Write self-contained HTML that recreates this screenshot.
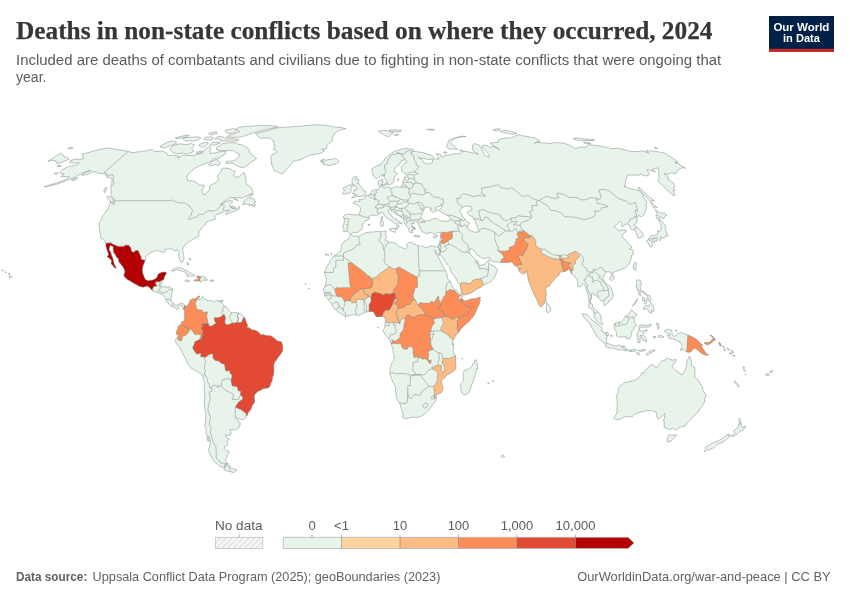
<!DOCTYPE html>
<html><head><meta charset="utf-8"><title>Deaths in non-state conflicts based on where they occurred, 2024</title>
<style>
html,body{margin:0;padding:0;background:#fff;}
body{width:850px;height:600px;overflow:hidden;position:relative;font-family:"Liberation Sans",sans-serif;}
svg{position:absolute;left:0;top:0;}
</style></head><body>
<svg width="850" height="600" viewBox="0 0 850 600">
<rect width="850" height="600" fill="#fff"/>
<g id="map">
<defs><path id="land" d="M70.4,160.5L75.7,159.1L79.2,159.3L83.6,158.7L82.8,157.1L82.6,154.9L81.8,154.2L90.8,151.9L99.3,149.5L107.7,147.9L113.4,148.9L118.8,149.8L124.1,150.6L128.0,151.5L133.1,152.8L137.5,151.9L141.4,151.5L147.6,150.4L152.0,149.5L154.4,151.7L161.8,151.0L166.7,152.8L167.6,155.3L174.2,155.5L178.9,156.0L177.5,158.4L183.1,155.1L189.5,155.5L195.8,155.1L199.4,152.8L203.8,151.5L205.7,148.5L210.1,146.4L210.6,148.5L209.8,151.3L210.6,153.5L215.3,152.8L220.6,151.3L225.6,151.3L225.4,154.0L220.8,156.9L216.7,159.1L213.5,158.7L210.7,161.4L205.4,163.9L201.1,165.1L195.3,168.1L189.6,172.4L186.8,176.4L187.8,180.8L192.5,180.8L195.5,182.0L199.5,184.9L204.4,185.4L202.0,190.7L203.2,194.7L205.9,194.4L209.3,189.4L209.7,185.7L216.2,182.5L218.9,178.9L217.1,176.0L220.5,172.8L222.4,168.1L226.9,168.1L230.1,168.8L232.6,170.7L235.5,171.2L233.6,176.0L235.7,177.4L238.9,176.7L243.4,172.8L244.3,172.8L245.8,177.9L245.9,182.0L247.6,184.9L250.7,186.9L251.8,189.2L253.2,191.9L252.6,193.7L248.9,194.7L242.9,197.7L236.9,197.7L229.9,197.7L225.4,200.7L220.2,205.0L224.3,202.2L229.9,200.5L233.1,201.2L230.2,203.8L230.1,207.1L232.4,208.4L236.3,208.9L239.6,206.3L239.7,208.6L236.5,210.4L231.2,212.2L226.1,214.8L225.4,212.7L229.7,210.1L227.0,210.4L224.3,210.9L223.3,212.2L219.4,213.5L216.6,214.5L214.7,217.1L215.5,219.2L212.7,219.9L209.7,220.7L206.1,222.0L205.0,224.8L202.5,226.9L199.4,231.1L198.8,232.4L198.9,236.0L195.9,237.6L192.5,239.7L189.5,241.5L185.3,244.4L183.1,247.8L182.7,250.4L183.7,254.6L184.1,258.2L183.1,261.6L181.1,262.7L179.8,259.8L178.6,255.6L179.0,252.5L177.3,249.9L174.4,250.9L172.0,248.8L168.2,249.1L164.8,249.4L164.8,252.2L162.0,252.0L158.9,250.9L155.0,250.7L152.0,252.0L148.2,254.3L145.6,256.9L145.3,260.3L143.1,265.5L142.3,269.7L142.8,273.4L144.3,277.3L145.3,279.4L147.9,280.7L151.6,280.2L154.4,279.6L156.9,277.5L158.3,273.9L161.7,272.3L165.6,272.1L166.5,273.4L164.5,276.5L163.7,279.9L162.5,279.9L162.0,282.5L160.7,285.9L160.8,286.9L162.8,286.7L166.7,286.9L170.1,286.9L172.6,289.0L171.7,294.3L170.9,299.5L171.6,301.3L173.1,303.1L174.4,304.7L176.7,305.2L179.0,304.2L180.9,303.1L183.7,303.9L185.0,305.5L183.6,309.4L182.8,307.1L182.4,305.7L180.2,305.0L178.2,306.8L178.4,308.9L176.7,309.4L175.0,307.3L172.3,306.8L170.5,305.7L167.9,302.6L165.9,301.3L166.1,299.2L163.6,295.6L162.4,294.3L159.9,293.7L157.0,292.4L154.1,291.6L151.9,290.3L148.9,286.7L146.8,285.9L143.4,287.2L139.8,286.4L136.2,284.6L132.6,282.5L130.6,281.2L127.4,279.4L124.8,277.3L123.8,274.9L124.9,272.1L124.3,269.2L122.7,266.6L120.7,264.0L118.9,261.9L118.4,258.8L116.4,256.9L115.7,255.2L113.7,252.5L113.1,248.6L113.3,246.7L110.6,245.4L109.6,246.7L109.1,249.9L110.8,252.5L111.6,255.6L113.0,258.8L113.5,262.1L114.5,264.8L116.1,267.4L115.0,268.4L113.4,266.1L111.1,263.7L111.6,260.6L109.7,258.5L107.1,256.7L108.7,254.6L107.7,251.7L106.6,248.8L106.0,246.0L105.9,243.3L104.3,239.7L100.3,238.1L100.6,236.3L99.7,232.7L99.7,230.3L99.3,228.2L99.1,225.1L99.2,222.8L101.6,219.2L102.3,216.6L105.6,212.2L108.4,207.8L110.6,202.2L113.7,202.7L113.3,205.0L115.1,202.5L114.6,200.7L113.6,198.2L111.7,196.7L110.5,194.4L111.4,191.9L110.9,188.9L110.9,186.9L111.6,184.5L111.9,182.0L112.0,178.9L109.6,177.4L107.5,177.7L106.3,176.0L104.8,174.0L101.3,173.5L97.8,173.3L96.0,171.7L91.8,172.1L89.4,173.8L85.0,175.0L81.4,175.2L85.2,172.6L90.9,170.5L86.5,171.2L82.5,173.1L78.5,175.0L74.9,177.2L68.9,179.6L63.2,181.8L57.5,184.0L52.3,185.2L47.6,186.4L44.2,186.9L49.7,184.9L55.5,183.2L61.4,181.3L66.4,179.4L69.6,176.7L66.6,176.9L64.0,176.4L60.9,176.7L64.2,174.0L60.8,173.8L60.6,171.9L62.8,169.3L67.5,167.0L71.9,166.0L76.7,165.1L79.3,163.0L75.7,163.0L72.2,163.0L70.0,162.5L70.4,160.5Z M281.6,174.0L277.7,172.1L274.5,170.7L273.0,167.7L271.6,164.1L271.3,160.7L270.7,157.3L272.4,154.4L277.5,152.4L276.6,150.6L273.2,149.3L274.8,146.4L274.1,143.2L272.7,140.0L269.6,138.1L265.0,138.1L260.4,138.1L257.5,136.2L256.6,134.6L255.2,133.7L262.6,131.9L268.2,130.4L272.5,128.9L279.3,127.6L288.1,127.0L298.2,126.4L308.5,125.3L318.2,124.8L327.4,125.5L333.8,126.9L341.9,127.6L345.9,128.6L339.9,130.1L335.8,132.3L333.7,135.2L332.2,138.1L332.3,141.1L328.7,143.6L326.5,146.4L326.8,148.5L321.7,149.3L324.7,150.6L321.7,152.8L317.2,154.2L310.3,154.9L305.4,157.3L300.3,159.8L295.8,160.5L292.7,161.8L290.2,165.3L287.0,168.8L284.5,171.9L281.6,174.0Z M320.5,160.5L323.8,158.7L325.7,160.7L327.8,159.6L331.3,159.3L334.7,158.4L337.3,159.6L339.0,161.6L336.7,163.4L332.6,164.8L329.3,165.6L326.4,165.1L322.8,164.4L324.0,163.2L320.7,162.0L324.0,161.1L320.5,160.5Z M256.8,158.4L251.5,161.8L247.2,165.3L243.3,167.7L240.0,167.2L235.7,165.1L232.3,163.2L226.0,163.4L226.4,161.4L234.2,160.7L238.5,157.3L239.5,154.4L235.7,152.4L232.7,150.6L228.6,150.6L221.9,150.6L216.7,150.0L216.8,147.4L223.4,143.2L228.5,142.8L235.0,142.6L238.4,144.3L241.3,144.7L246.2,146.8L249.2,149.5L249.7,152.8L253.7,156.2L256.8,158.4Z M170.1,149.5L172.4,152.2L175.9,153.7L183.2,153.1L187.5,154.0L193.8,151.5L191.8,148.5L194.7,144.9L191.3,143.6L185.3,144.7L180.7,143.8L173.4,145.3L171.5,147.6L170.1,149.5Z M159.8,146.6L163.1,147.9L168.9,146.4L176.7,143.2L175.5,141.5L171.3,141.1L166.1,142.8L159.8,146.6Z M226.3,137.2L232.2,137.3L238.2,137.3L243.9,136.2L251.0,133.5L256.8,131.9L266.1,129.6L273.4,127.9L278.0,126.7L272.7,125.8L262.0,125.6L250.5,126.1L241.1,127.0L236.3,128.6L237.1,130.1L240.0,131.4L234.6,133.7L229.2,135.2L226.3,137.2Z M225.2,130.4L233.5,128.6L236.6,129.9L235.5,132.1L229.4,133.7L225.8,131.8L225.2,130.4Z M218.1,136.4L223.5,137.0L225.9,138.9L233.8,138.7L239.0,139.7L237.9,140.9L228.4,141.1L220.2,140.7L219.7,138.9L214.9,139.1L218.1,136.4Z M184.5,137.7L191.1,137.3L198.0,136.8L200.8,138.1L198.2,140.0L192.4,141.1L185.6,140.9L182.8,138.9L184.5,137.7Z M205.3,137.0L211.4,137.0L213.8,138.1L211.0,140.0L206.8,140.0L203.6,138.9L205.3,137.0Z M199.4,144.3L205.2,142.4L208.6,143.0L205.7,146.0L201.8,147.4L199.3,146.0L199.4,144.3Z M212.5,142.2L218.0,142.2L220.4,143.0L214.5,145.1L210.0,145.3L212.5,142.2Z M210.7,161.4L216.3,159.6L218.3,160.5L220.5,163.9L218.6,165.6L214.7,164.6L211.1,166.0L208.3,164.8L211.2,163.2L210.7,161.4Z M196.6,152.2L201.7,151.0L203.1,152.4L200.1,154.0L196.3,153.5L196.6,152.2Z M175.4,137.7L183.6,135.8L188.9,135.2L187.1,137.0L180.6,138.3L175.7,138.5L175.4,137.7Z M208.6,133.3L216.4,131.8L216.9,133.7L211.0,134.8L208.6,133.3Z M242.2,204.3L244.9,202.2L243.6,201.7L245.6,199.9L248.4,196.7L250.2,194.9L253.1,194.2L251.2,196.7L249.5,198.2L251.6,198.4L254.4,199.4L254.8,201.5L255.7,201.7L254.0,203.8L255.6,204.5L254.2,206.7L252.5,206.1L252.5,204.5L249.3,206.1L249.7,204.5L246.9,204.3L242.2,204.3Z M107.3,196.2L110.0,196.9L112.2,198.2L113.5,199.9L113.2,202.2L110.8,202.0L109.3,200.2L107.2,197.9L107.3,196.2Z M105.1,187.7L107.2,188.2L104.6,192.7L103.8,190.7L105.1,187.7Z M71.3,179.8L72.7,180.8L76.3,179.4L77.6,177.4L74.1,178.6L71.3,179.8Z M55.3,173.1L58.5,172.8L57.1,174.0L54.3,174.0L55.3,173.1Z M57.6,165.1L60.6,165.8L61.6,166.0L58.0,166.7L56.7,165.8L57.6,165.1Z M233.6,198.4L238.1,199.9L238.4,200.5L235.0,199.7L233.6,198.4Z M231.5,206.1L235.8,207.3L234.4,208.4L231.6,207.6L231.5,206.1Z M171.2,271.0L173.5,268.9L175.8,268.2L177.2,267.8L180.4,267.9L182.6,268.4L184.6,269.7L187.8,271.3L189.9,272.8L191.6,273.6L194.8,275.5L192.4,276.2L187.2,276.2L186.7,276.4L188.1,274.7L185.9,273.9L185.3,272.1L182.2,271.5L180.9,270.8L178.3,270.2L177.5,269.5L175.1,270.5L173.2,271.0L171.2,271.0Z M193.7,280.3L195.9,279.6L198.4,279.9L197.7,278.1L196.5,276.5L197.9,276.1L200.2,276.6L203.1,276.4L204.4,276.8L205.9,277.8L204.9,278.6L207.6,279.6L206.7,280.7L204.1,280.0L202.6,280.7L201.2,282.0L200.4,282.2L199.8,281.1L197.4,280.8L195.1,281.1L193.7,280.3Z M185.0,280.4L186.8,279.9L189.5,280.8L189.4,281.5L187.3,281.9L184.9,280.8L185.0,280.4Z M210.2,279.9L213.6,280.2L213.5,281.2L210.1,281.3L210.2,279.9Z M187.1,262.7L188.3,262.7L188.4,265.0L187.3,265.0L187.1,262.7Z M189.1,258.2L190.7,258.8L190.5,260.3L189.8,260.1L189.1,258.2Z M9.6,275.3L11.6,276.5L11.6,277.5L9.7,278.7L9.2,277.0L9.6,275.3Z M8.5,273.4L10.0,273.6L9.6,274.4L8.5,274.2L8.5,273.4Z M5.3,271.8L6.6,272.1L6.2,272.7L5.3,272.6L5.3,271.8Z M2.3,270.2L3.4,270.2L3.1,271.0L2.2,270.9L2.3,270.2Z M185.0,305.5L186.3,307.3L187.5,305.0L189.2,303.4L189.6,300.8L191.3,299.5L192.7,298.7L195.4,298.7L197.4,297.1L199.3,295.8L199.9,296.9L198.0,298.2L198.6,300.0L200.0,299.5L201.7,298.2L202.5,296.3L203.3,298.2L206.1,300.0L209.1,300.8L211.4,300.5L213.6,301.8L216.0,300.8L219.4,300.3L218.9,301.6L221.6,302.6L222.9,303.9L223.3,306.0L225.4,306.5L227.2,307.6L228.7,310.2L230.9,312.5L233.9,312.8L236.2,312.5L238.5,313.1L240.8,313.8L243.0,316.2L244.2,317.0L245.3,319.1L246.4,323.0L247.8,325.1L246.8,327.7L248.6,327.4L250.7,329.0L252.1,330.0L254.4,330.0L256.7,331.1L259.5,332.9L260.7,335.0L263.0,334.5L266.0,335.5L268.3,335.8L270.6,335.8L274.1,337.9L277.1,340.7L279.9,341.5L281.5,341.8L282.3,344.6L282.8,347.3L282.4,351.7L280.6,354.3L278.0,357.4L276.2,360.6L274.5,362.1L273.7,366.1L273.9,370.0L273.7,374.2L272.5,377.3L272.2,380.4L270.4,384.3L269.9,386.2L268.2,388.1L265.5,388.2L262.4,389.0L260.5,390.6L258.5,390.9L256.0,393.2L254.6,394.8L254.2,397.4L254.6,400.8L254.3,402.9L252.4,405.0L251.6,407.8L250.1,410.4L248.4,412.3L247.5,414.9L246.2,416.3L245.6,418.0L243.4,419.4L240.6,419.3L238.4,418.3L236.6,418.0L235.4,417.0L235.6,418.5L238.4,420.4L239.1,422.7L240.4,423.5L239.2,427.4L237.4,428.9L234.6,429.7L231.5,430.0L229.9,429.5L230.8,432.6L230.8,434.9L228.0,435.4L225.3,434.7L226.1,437.5L228.0,438.3L229.6,439.3L228.3,440.1L227.2,441.1L227.4,444.2L227.0,445.5L224.7,446.5L224.3,448.6L226.5,450.6L228.7,451.1L229.1,452.9L227.0,455.2L227.1,457.7L225.4,459.0L225.3,460.7L228.3,464.0L226.2,464.2L224.1,465.2L224.8,467.7L222.0,467.2L219.5,466.0L216.8,463.7L214.2,461.5L212.1,458.2L210.2,454.4L208.2,449.8L209.3,447.8L210.0,444.2L210.4,440.9L209.5,437.0L207.5,436.7L205.9,432.6L206.4,430.5L204.8,426.1L205.1,424.0L205.3,420.9L206.0,416.4L205.6,411.7L204.5,406.5L204.5,403.9L204.5,400.0L204.8,394.8L204.1,389.6L204.5,384.3L203.8,380.4L202.9,376.0L200.4,373.6L197.7,371.8L194.1,370.0L190.9,367.9L188.4,364.5L186.0,359.8L184.6,356.9L182.5,353.0L180.5,349.1L179.0,346.2L176.4,344.1L175.8,341.8L175.5,339.9L176.4,338.4L177.8,337.1L178.7,335.2L177.7,335.0L176.2,333.9L176.7,330.8L178.1,328.2L178.3,326.1L180.9,324.8L181.9,321.7L184.0,321.4L184.9,318.3L184.3,316.5L184.6,313.6L184.7,311.0L183.6,309.4L185.0,305.5Z M228.2,464.9L225.0,465.5L225.7,467.2L224.8,468.7L223.6,469.5L227.2,471.0L230.4,471.7L234.1,472.7L235.0,471.2L236.9,470.0L234.0,469.0L231.4,467.7L229.5,466.0L228.2,464.9Z M206.9,437.2L208.4,437.5L209.5,441.4L207.7,440.9L206.9,437.2Z M220.8,300.3L223.0,300.0L222.8,301.8L220.7,302.0L220.8,300.3Z M438.2,246.5L440.2,251.2L439.4,254.3L439.0,255.7L437.5,254.3L436.5,252.7L435.0,250.1L434.5,250.9L435.7,253.3L437.4,255.4L438.5,257.7L440.3,260.8L442.6,265.5L443.2,267.9L446.1,270.8L446.9,273.4L447.3,277.0L447.9,279.4L450.3,281.2L451.6,284.3L452.7,287.5L454.6,289.0L456.9,290.3L459.6,293.5L461.5,295.0L462.2,297.1L460.9,298.2L462.1,298.4L464.2,300.8L466.1,300.8L468.3,300.0L471.0,299.0L473.3,298.7L475.1,298.7L478.1,297.7L480.1,296.9L480.3,297.4L480.0,299.5L480.5,300.8L479.6,301.3L479.5,303.7L478.4,306.0L477.3,307.8L475.6,312.5L473.4,316.5L471.1,319.1L468.8,321.7L467.2,323.0L464.2,325.6L462.4,327.4L460.8,329.2L459.4,331.3L458.5,332.6L457.1,334.2L455.4,335.2L455.0,337.1L454.0,338.9L453.1,340.5L452.1,343.9L453.2,346.0L453.6,347.5L453.1,350.4L454.0,353.8L455.5,355.6L455.8,359.5L455.5,362.1L456.0,366.1L455.4,369.2L453.9,371.0L451.6,372.6L448.8,373.9L446.9,374.9L445.2,377.3L443.3,378.9L441.7,379.9L441.3,382.2L442.1,384.6L442.9,386.7L442.6,390.3L441.6,392.4L439.1,393.5L436.5,394.8L436.0,396.1L436.3,398.2L435.3,401.8L433.4,403.7L431.5,406.3L429.6,409.1L427.2,411.7L424.8,413.8L422.3,415.7L419.1,417.0L416.2,417.5L413.6,417.0L410.8,417.5L408.1,418.3L406.3,419.1L404.2,418.0L402.9,417.9L402.9,414.4L402.4,411.7L401.4,408.6L400.3,405.2L399.5,402.9L397.8,400.8L396.5,398.2L396.0,394.3L395.4,390.9L395.5,386.9L394.2,384.3L392.7,381.7L391.2,377.8L389.6,373.4L389.7,370.0L390.7,366.6L391.6,363.4L393.7,360.8L394.4,356.9L394.0,354.3L392.7,351.7L393.4,350.4L392.2,347.0L391.1,344.0L390.9,342.6L390.0,340.5L388.4,338.4L386.3,336.0L384.7,334.2L383.5,331.6L383.0,330.0L384.2,328.7L384.7,327.2L384.9,325.3L385.4,322.2L385.6,320.1L384.9,318.0L383.3,316.5L381.9,316.3L380.1,316.7L378.5,316.7L376.6,317.0L375.2,315.1L374.3,313.3L373.2,311.8L370.6,311.5L369.0,311.5L366.5,312.0L365.6,312.3L364.0,313.1L362.3,313.8L360.5,314.6L358.2,315.8L355.7,314.9L353.6,314.6L351.3,314.9L349.0,315.7L345.5,316.8L343.7,315.4L342.1,314.6L339.8,312.8L337.9,311.8L336.3,310.2L334.1,308.6L332.9,306.8L332.2,306.0L332.2,304.4L331.3,303.4L329.5,301.3L328.4,299.7L327.3,298.4L325.7,297.1L324.6,295.8L324.4,293.5L324.8,292.2L322.8,289.7L324.0,288.5L325.2,286.4L325.7,283.8L326.5,280.7L326.1,278.1L325.4,277.0L325.9,275.2L324.2,273.9L324.4,272.1L326.1,268.7L327.0,266.3L329.1,263.5L330.4,260.1L332.4,258.0L333.8,255.9L336.1,254.8L337.9,253.3L340.2,251.7L341.3,249.4L341.2,246.2L342.4,243.3L344.2,241.3L346.2,240.5L348.0,239.2L349.3,236.8L350.0,234.7L351.3,234.5L353.0,236.3L354.5,236.2L356.3,236.0L358.0,236.6L360.6,235.0L362.8,234.5L365.0,232.9L367.1,232.7L369.3,232.1L371.4,231.9L373.6,232.1L375.7,231.6L377.9,231.4L381.3,231.7L383.9,230.8L385.0,231.4L386.5,231.5L385.5,233.2L385.8,235.0L386.9,236.3L386.1,238.1L384.8,239.7L386.4,240.5L388.0,241.5L390.2,242.3L391.9,242.3L394.2,243.1L396.2,243.6L396.9,245.7L399.2,246.7L402.1,247.5L404.8,249.1L406.7,247.8L407.1,246.0L406.7,244.1L408.2,242.8L410.1,242.3L413.2,243.1L413.8,244.1L416.7,244.9L418.1,245.7L420.1,246.0L423.0,246.5L425.7,247.3L427.3,247.7L428.9,246.5L431.1,245.8L433.0,246.0L434.0,246.7L436.0,247.0L438.2,246.5Z M475.7,359.5L477.0,362.7L477.5,366.1L478.0,368.7L476.4,368.9L476.0,372.1L475.0,375.5L473.9,379.1L472.5,383.0L471.0,386.9L469.6,390.9L468.3,393.6L465.9,394.3L463.8,395.0L462.2,393.7L461.0,391.4L461.0,388.8L460.5,385.6L461.1,383.8L462.8,381.5L463.7,379.1L463.4,376.5L462.9,373.9L464.2,370.8L466.5,369.7L468.4,369.2L470.6,367.4L472.2,365.8L472.6,363.7L474.4,362.9L474.8,360.8L475.7,359.5Z M377.8,327.2L378.4,327.3L378.3,328.1L377.8,327.9L377.8,327.2Z M453.0,343.3L453.7,343.9L453.7,344.9L453.1,344.6L453.0,343.3Z M461.8,358.2L462.5,358.5L462.2,359.3L461.8,359.0L461.8,358.2Z M487.9,382.8L489.0,383.0L488.7,383.9L487.8,383.6L487.9,382.8Z M492.8,380.4L493.7,380.7L493.4,381.7L492.6,381.5L492.8,380.4Z M325.2,254.2L326.8,253.7L326.3,255.0L325.4,255.0L325.2,254.2Z M327.6,254.8L328.5,254.8L328.5,255.7L327.6,255.6L327.6,254.8Z M331.2,253.5L332.1,253.3L331.9,254.6L331.0,254.8L331.2,253.5Z M308.5,288.3L309.4,288.5L309.1,289.3L308.5,289.0L308.5,288.3Z M305.2,283.6L306.1,283.6L305.9,284.2L305.2,284.1L305.2,283.6Z M438.2,246.5L438.9,244.7L439.4,242.6L439.6,241.8L440.3,239.7L440.8,238.1L440.6,235.3L440.7,234.2L440.9,232.4L439.4,232.7L437.4,232.1L435.7,233.7L433.8,234.1L431.9,232.9L429.0,231.9L428.7,233.4L426.2,233.7L423.9,232.4L421.8,231.6L421.2,229.3L419.4,228.2L420.2,226.4L418.4,225.1L418.5,223.7L418.1,222.3L415.7,221.5L414.4,221.5L413.2,222.5L414.4,223.4L412.5,223.9L411.3,222.5L410.8,223.8L412.1,225.9L411.7,226.9L414.2,228.5L414.5,229.8L413.2,229.0L412.2,229.3L412.7,230.6L411.8,230.3L412.7,232.9L411.4,233.0L409.6,232.1L408.6,229.8L409.3,228.5L408.0,228.0L407.0,226.7L405.8,224.8L403.9,222.8L404.0,220.5L403.6,218.9L401.6,217.6L399.4,216.1L397.0,214.8L394.4,213.0L393.6,210.9L392.5,210.1L391.6,211.4L390.6,209.6L391.0,209.1L389.6,209.4L388.2,210.1L388.5,212.7L389.0,213.5L391.1,214.5L392.6,217.4L395.0,218.9L396.9,218.9L396.3,219.9L398.7,221.0L402.1,223.5L401.7,224.3L399.3,222.8L398.1,223.8L398.1,224.8L399.3,226.4L398.1,228.0L397.3,229.3L396.4,229.0L396.6,227.5L397.4,226.4L396.5,225.1L395.9,223.5L394.6,223.3L393.5,222.3L392.8,221.7L391.3,220.7L388.5,219.2L386.1,217.6L384.8,216.3L384.3,214.8L383.2,213.2L381.3,212.4L379.8,213.5L378.4,214.0L377.2,215.0L375.8,215.8L374.1,215.3L372.2,215.0L370.1,215.3L369.1,217.4L369.5,218.9L367.4,220.2L364.9,221.2L364.3,222.0L362.8,224.1L362.2,225.4L363.2,226.9L361.7,228.2L361.3,230.1L358.7,231.6L358.1,232.4L355.2,232.4L353.3,232.4L351.2,234.0L349.8,233.7L349.2,232.7L347.7,231.1L345.8,231.6L343.6,231.6L344.0,228.0L342.5,227.2L343.6,224.8L344.4,221.2L344.1,218.6L343.4,216.1L345.7,214.5L346.4,214.0L350.9,214.5L354.9,214.8L359.0,215.0L359.9,212.2L360.5,209.4L360.3,207.8L358.3,205.3L355.7,204.0L353.7,203.5L353.1,202.2L355.7,201.2L358.8,201.7L359.6,201.5L359.2,198.9L360.4,199.7L363.0,199.4L365.8,197.7L366.0,195.9L367.8,195.4L369.5,194.7L370.7,193.2L372.0,190.7L373.5,189.9L376.5,189.7L378.4,189.2L379.5,188.4L380.0,187.4L379.4,185.7L378.3,184.2L378.2,182.0L378.5,180.6L380.7,180.3L382.7,179.1L382.7,180.8L382.4,182.0L383.5,182.3L382.3,183.0L381.6,184.5L381.1,185.7L381.9,186.2L382.5,187.2L384.1,187.2L384.0,188.2L386.2,187.7L388.7,186.7L390.4,188.4L393.8,187.4L397.5,186.2L398.8,187.2L400.7,187.2L401.3,185.9L403.1,184.9L403.2,184.0L402.7,182.0L403.3,179.8L405.3,179.1L406.7,180.6L408.2,180.8L408.6,178.6L408.6,177.4L406.6,176.7L406.2,175.5L408.5,174.7L410.9,174.5L414.6,174.7L416.2,173.5L418.5,173.8L416.1,173.1L415.1,171.9L412.3,172.4L408.8,173.1L405.2,174.0L403.5,172.6L401.6,171.2L401.6,169.8L401.2,166.5L403.6,164.4L405.8,162.3L407.3,161.8L405.4,160.2L404.7,160.0L401.4,160.5L400.2,162.5L400.0,164.1L397.6,165.8L395.1,167.7L394.3,169.5L394.3,171.9L397.4,173.5L396.3,175.2L394.5,176.7L394.0,178.9L393.9,181.5L392.9,183.0L390.2,184.5L387.7,184.7L387.0,183.0L387.3,181.5L385.2,179.1L383.6,176.0L382.5,173.8L381.8,176.0L380.5,176.2L379.1,177.4L377.8,178.1L375.9,178.4L373.4,176.2L372.3,172.6L371.9,170.0L372.2,168.6L374.5,167.2L376.2,166.3L377.9,165.3L381.3,165.1L380.5,164.1L382.4,162.0L384.2,160.7L384.9,158.4L387.4,156.6L389.1,155.1L390.6,154.0L392.1,152.8L394.4,151.3L397.6,150.4L401.4,149.1L405.0,148.3L408.6,148.5L411.6,149.1L413.9,149.8L412.6,151.0L414.4,151.3L417.9,151.9L423.1,152.6L427.8,154.2L432.5,155.8L433.8,157.8L432.0,159.1L428.7,159.6L423.1,158.4L419.6,158.0L418.4,157.1L422.9,160.7L424.1,163.0L427.4,164.1L429.9,163.4L433.1,162.5L432.3,160.0L435.3,158.7L438.9,159.1L437.8,155.3L436.0,153.7L440.5,154.4L441.7,157.3L444.4,155.8L448.4,155.1L452.4,154.6L453.5,153.3L457.2,154.0L460.4,153.5L462.8,151.7L465.9,151.3L469.7,152.2L475.5,153.5L478.4,154.2L474.1,151.7L472.4,148.5L472.7,145.3L474.0,143.6L478.7,144.7L481.4,148.5L483.5,152.8L484.9,155.1L488.8,157.3L489.1,155.1L485.4,150.6L481.8,146.8L483.0,145.1L487.5,145.7L489.6,147.4L493.7,146.4L497.8,148.5L499.5,149.5L492.8,145.3L490.3,143.2L493.8,142.6L498.3,142.4L497.9,140.0L501.2,138.9L505.0,138.1L509.3,137.9L511.9,137.5L514.8,136.2L518.0,134.8L521.5,135.6L527.3,136.6L535.5,138.1L540.2,141.1L535.9,142.2L534.3,143.6L535.9,142.2L541.3,142.8L546.3,143.0L550.2,143.6L553.7,142.6L558.7,142.8L564.0,143.2L569.8,145.3L571.2,146.4L575.5,148.5L579.0,147.4L582.0,147.2L585.5,147.4L587.3,145.7L588.2,144.7L593.6,145.1L597.7,145.7L606.7,147.4L611.8,148.7L616.1,148.3L619.7,148.5L628.0,150.6L631.2,151.7L635.5,151.3L639.5,151.7L641.2,150.6L648.6,152.8L646.2,150.6L651.0,151.0L655.5,151.3L660.2,152.2L664.9,153.1L677.8,161.6L677.4,162.5L674.8,162.5L678.8,164.1L682.9,166.5L685.5,168.1L681.2,167.9L679.5,169.3L676.8,171.4L675.9,173.5L671.3,172.8L669.1,174.0L664.2,173.8L668.2,176.4L668.5,178.4L667.2,178.9L673.4,182.8L674.8,185.7L673.4,188.2L675.3,190.2L673.0,190.7L674.3,193.2L674.3,195.9L669.1,191.9L662.5,185.7L658.0,180.8L659.1,178.4L658.8,174.7L658.8,172.4L658.6,170.0L657.5,167.7L655.4,168.8L652.3,169.3L655.5,171.9L647.2,169.5L647.9,171.7L649.6,174.7L646.9,175.7L645.3,176.0L641.6,174.5L637.1,175.2L631.3,175.0L627.9,175.2L627.0,177.2L626.1,179.1L625.6,181.5L625.3,183.2L625.3,185.7L624.0,186.4L628.7,188.2L631.1,188.7L636.0,189.9L638.8,190.2L641.1,192.7L642.8,194.4L644.0,198.2L646.8,202.0L645.9,205.0L646.7,207.6L646.1,209.6L645.3,211.4L644.5,213.5L642.9,216.1L641.1,216.6L638.4,215.5L637.3,217.1L637.1,217.9L637.0,221.2L637.3,221.7L634.9,223.8L634.4,225.1L634.6,225.9L637.5,227.5L641.6,231.6L643.1,234.2L643.5,236.0L641.3,237.3L638.4,238.4L637.6,237.3L636.6,234.2L635.6,231.6L634.8,230.1L631.8,229.5L630.4,228.8L630.2,227.5L629.5,225.1L627.2,223.8L624.7,224.8L623.3,226.4L622.0,226.9L621.7,224.8L621.8,222.5L620.4,221.5L618.9,221.7L617.0,224.3L614.5,225.9L614.3,226.9L617.9,229.5L619.0,231.1L621.9,229.5L626.3,230.6L625.8,231.9L623.2,234.2L622.2,236.8L624.7,239.4L627.7,242.8L630.8,245.4L631.8,247.5L630.1,248.3L629.3,249.1L633.0,250.1L633.3,254.3L631.6,255.4L630.7,260.3L629.1,264.0L626.1,266.8L625.2,268.2L622.7,268.9L620.6,269.7L618.9,270.5L615.7,271.5L612.8,272.8L612.7,275.2L611.3,274.7L610.9,272.3L609.0,271.8L607.2,271.8L604.8,273.6L604.4,275.2L602.8,278.6L603.0,279.4L605.0,282.5L607.9,285.1L609.6,286.2L611.7,289.0L612.8,293.0L613.0,295.6L613.0,297.4L611.6,299.5L608.8,301.0L607.8,303.4L604.1,305.7L603.7,302.6L602.6,301.0L600.5,300.5L598.9,298.4L598.6,297.7L597.1,296.3L594.0,295.0L593.6,293.2L592.6,293.0L591.5,293.5L591.5,295.6L591.5,298.2L590.4,300.8L590.6,303.9L592.2,303.9L592.6,306.0L593.9,309.1L596.3,310.2L597.8,312.0L599.9,313.8L601.0,315.7L601.3,319.1L601.1,321.2L603.0,324.5L601.4,324.8L598.6,322.5L596.2,320.6L594.5,317.2L594.0,314.1L593.6,311.5L592.1,310.2L590.4,308.1L588.8,307.8L588.6,304.7L589.2,302.1L588.7,299.5L588.7,296.9L587.7,293.7L587.0,291.6L586.0,288.3L585.1,285.1L583.6,284.3L582.2,285.1L580.3,286.9L577.8,286.4L577.7,282.5L576.8,279.1L575.2,277.3L574.6,276.0L572.9,275.2L571.6,273.9L570.6,272.1L569.9,270.0L568.6,268.9L567.1,270.0L567.0,270.8L565.3,271.3L564.0,271.5L562.0,271.8L559.6,272.6L559.2,274.2L558.7,275.7L557.2,276.5L555.6,277.8L553.6,280.4L552.2,282.0L550.2,284.6L550.1,285.4L547.9,286.7L546.0,287.7L545.7,289.0L545.9,291.6L546.5,294.0L545.8,296.9L545.8,299.5L546.2,301.3L544.8,301.6L544.2,303.9L542.5,305.0L541.1,307.1L538.8,305.0L538.0,302.4L536.6,299.0L534.5,295.6L534.0,294.5L532.3,290.3L531.2,287.7L529.6,283.8L528.0,278.6L527.6,274.7L526.8,272.1L526.4,270.2L525.8,272.8L523.4,273.9L522.0,273.6L519.0,271.0L518.4,269.7L521.2,268.4L518.3,268.7L517.0,266.8L516.2,266.3L514.6,265.5L514.0,264.8L513.2,263.5L511.9,261.9L507.5,262.4L503.0,262.4L501.0,262.4L498.5,262.1L495.1,261.9L492.3,261.4L491.1,260.8L489.8,257.7L488.4,257.2L485.7,258.5L484.6,258.8L481.1,257.7L479.8,256.4L477.5,255.4L475.6,252.7L473.7,249.9L471.1,248.6L470.2,249.9L469.2,251.2L469.6,252.5L470.4,253.8L471.5,255.9L473.2,257.2L475.0,258.8L475.3,261.6L476.8,263.5L476.6,261.6L476.9,260.1L478.5,262.1L478.5,264.0L479.3,265.5L481.9,265.0L485.0,264.2L486.8,262.1L488.3,260.1L488.9,259.5L489.4,262.9L490.2,264.5L494.6,266.6L497.6,269.5L495.6,274.7L493.9,278.6L491.2,281.2L487.9,283.3L485.7,283.8L483.7,284.9L481.4,286.9L477.0,289.0L474.8,290.6L471.4,292.7L465.8,294.8L462.4,295.0L461.6,293.0L460.8,289.6L460.3,285.6L458.3,282.5L455.8,278.6L454.6,276.5L451.3,272.1L449.4,266.8L448.2,265.5L446.3,262.9L444.5,260.3L441.9,256.4L440.7,254.8L439.8,254.8L440.4,251.2L440.2,251.2L438.2,246.5Z M60.7,153.1L62.4,154.2L63.6,156.2L66.2,157.3L68.4,158.2L69.0,159.3L66.0,160.5L59.9,163.0L57.5,163.4L56.1,162.5L55.8,160.9L52.6,160.7L52.2,159.8L47.8,161.6L60.7,153.1Z M70.1,147.4L72.6,147.4L73.1,148.1L70.3,148.7L67.9,148.7L70.1,147.4Z M655.5,147.4L653.9,147.6L655.2,148.5L657.7,148.7L655.5,147.4Z M351.4,197.9L354.4,197.4L356.8,196.4L360.2,196.4L363.4,196.3L365.6,195.3L364.8,194.4L366.1,191.7L363.4,190.7L363.2,189.4L361.8,187.2L359.9,185.7L359.0,183.7L357.1,183.2L358.0,182.5L359.0,179.6L356.2,179.1L355.3,179.4L357.0,176.9L353.5,176.9L352.5,178.9L351.8,180.8L352.3,182.8L351.9,184.9L353.6,184.2L353.2,186.2L356.1,185.9L356.6,187.9L356.9,189.7L354.2,189.9L353.8,191.2L354.7,191.9L352.5,193.4L354.3,194.2L356.9,194.7L354.5,195.2L351.4,197.9Z M342.5,193.7L344.0,194.4L346.4,193.7L350.2,192.7L351.1,189.9L351.2,188.2L352.2,187.2L351.3,185.2L348.8,184.9L346.4,186.2L346.4,187.2L343.4,187.7L343.5,189.7L345.2,190.2L344.2,191.4L342.5,192.9L342.5,193.7Z M378.6,131.0L382.9,130.4L387.2,130.6L390.3,131.8L393.5,132.9L390.9,134.3L390.4,135.2L388.5,137.0L385.3,135.8L383.6,134.6L382.0,133.7L379.6,132.3L378.6,131.0Z M389.2,130.1L395.5,129.8L401.4,130.3L400.4,131.6L394.7,131.8L390.2,131.0L389.2,130.1Z M394.1,135.2L396.0,133.9L398.8,134.5L398.0,135.6L395.0,135.6L394.1,135.2Z M426.7,129.5L430.7,129.2L434.6,129.6L432.2,130.3L428.4,129.9L426.7,129.5Z M446.4,147.2L449.8,148.9L453.1,149.1L457.4,149.3L454.9,146.4L451.3,144.3L450.9,142.2L452.9,140.0L456.0,138.1L461.2,137.0L466.0,136.4L462.1,136.2L457.0,137.3L451.9,138.7L449.0,140.0L448.0,142.6L447.1,145.3L446.4,147.2Z M443.5,152.2L445.3,151.7L447.0,152.6L445.7,153.5L443.8,152.8L443.5,152.2Z M459.4,150.0L462.7,150.6L463.1,151.3L460.8,151.0L459.4,150.0Z M500.7,131.9L503.0,130.3L507.3,130.8L511.9,131.6L517.0,133.3L513.8,134.3L508.9,133.9L504.6,132.7L500.7,131.9Z M492.8,130.1L496.3,128.6L501.0,129.3L499.6,130.4L496.5,130.8L492.8,130.1Z M572.9,138.5L576.5,137.9L584.3,138.9L589.6,139.3L595.0,139.7L593.2,140.5L583.9,140.5L579.5,140.7L574.5,139.5L572.9,138.5Z M583.4,142.4L587.3,142.4L590.7,143.6L586.7,143.6L584.6,143.2L583.4,142.4Z M637.8,187.4L639.5,187.4L643.1,190.7L646.4,194.4L649.1,196.9L654.5,201.0L651.5,200.2L652.4,203.3L655.8,206.3L657.2,207.8L654.6,206.6L654.5,208.5L651.5,204.5L649.3,200.7L646.0,196.9L642.3,193.2L639.3,189.9L637.8,187.4Z M658.5,219.9L659.9,219.2L658.2,217.1L659.9,217.1L663.8,218.6L664.9,216.1L666.9,215.3L664.3,213.0L662.7,213.5L659.2,212.2L655.2,209.6L656.5,212.2L657.9,215.3L655.8,215.3L656.3,217.4L657.4,219.4L658.5,219.9Z M659.8,219.9L661.0,220.2L662.7,222.5L665.3,225.1L665.9,228.2L665.2,229.0L666.6,231.6L666.7,233.4L668.2,235.0L667.2,236.8L665.9,235.5L665.2,236.3L664.9,237.6L663.7,237.9L661.5,237.9L660.4,236.8L661.2,238.6L660.4,240.0L659.7,240.9L657.3,238.6L657.4,237.9L655.5,237.6L652.7,238.6L651.2,238.6L648.7,239.4L649.1,237.9L650.6,235.8L652.4,235.5L654.4,235.3L656.0,235.0L657.4,234.7L657.6,232.1L658.0,230.3L658.7,232.1L660.7,230.6L661.3,227.7L661.3,226.4L660.4,223.8L659.3,222.5L659.0,220.7L659.8,219.9Z M648.5,239.7L650.6,240.5L652.1,242.6L652.4,246.0L651.1,247.3L649.7,246.5L648.5,243.3L647.4,242.8L646.4,241.0L647.7,240.2L648.5,239.7Z M651.9,239.4L654.8,238.4L657.0,240.0L656.5,241.5L654.6,240.7L654.4,242.8L652.5,241.3L651.9,239.4Z M635.2,262.1L636.6,262.9L636.2,265.5L635.6,270.8L633.7,268.9L633.1,266.8L634.3,262.9L635.2,262.1Z M613.5,275.7L614.4,277.0L613.6,279.1L611.6,280.7L609.5,279.4L609.3,277.8L610.9,276.2L613.5,275.7Z M546.5,302.6L548.7,305.0L550.9,308.6L550.6,311.2L548.3,312.8L546.9,312.0L546.4,309.9L546.2,306.8L546.6,304.7L546.5,302.6Z M636.6,279.9L640.3,280.2L641.4,283.8L640.1,286.9L640.8,290.3L643.9,291.6L646.8,294.3L646.7,295.3L644.9,294.3L643.1,291.9L641.0,291.9L638.8,292.2L638.3,289.8L639.0,290.1L637.1,289.6L636.0,285.6L637.0,285.9L636.6,282.5L636.6,279.9Z M638.2,293.2L640.2,293.2L640.9,295.3L640.4,296.3L639.3,295.0L638.2,293.2Z M647.4,295.6L649.7,295.6L651.2,299.0L650.2,301.8L649.2,301.6L648.0,298.7L647.4,295.6Z M642.3,297.1L644.9,298.2L644.1,300.5L642.5,300.8L642.3,297.1Z M644.0,302.1L646.0,299.7L647.1,299.0L646.6,302.6L645.3,304.4L644.0,302.1Z M632.1,306.3L635.2,303.7L637.0,300.5L637.2,298.7L636.3,300.8L633.8,303.9L632.1,306.3Z M643.7,310.2L643.9,307.3L646.3,305.5L648.3,306.8L649.5,304.7L650.9,302.6L653.0,306.0L653.9,309.1L653.2,311.8L652.0,310.4L651.7,309.9L651.5,313.6L648.6,312.0L648.0,309.9L646.5,308.6L645.2,308.6L643.7,310.2Z M614.1,324.3L615.4,323.0L619.5,321.7L618.7,324.3L623.2,319.8L625.4,316.2L627.0,315.4L629.8,312.5L631.5,309.9L633.6,311.5L635.6,313.8L637.3,314.6L635.1,316.7L633.7,317.2L634.2,319.1L634.6,323.0L636.9,325.3L634.4,326.1L633.8,328.2L633.8,329.5L631.4,332.1L631.3,334.7L630.5,337.3L630.0,338.6L626.8,338.9L626.6,337.1L623.2,336.6L620.4,337.3L616.7,336.0L616.4,332.1L614.6,329.5L614.7,328.2L614.1,325.6L614.1,324.3Z M582.2,313.6L587.3,314.6L589.2,317.0L590.2,318.3L593.3,321.2L595.6,322.5L598.4,324.8L600.5,326.6L602.2,327.7L601.2,330.3L603.5,331.3L603.7,332.9L607.1,335.8L607.1,336.6L606.5,339.9L606.6,343.3L605.0,343.3L603.4,342.6L601.2,340.7L598.5,338.4L595.6,334.7L594.3,330.8L591.6,327.4L590.3,323.8L587.7,321.9L585.1,318.8L582.5,315.1L582.2,313.6Z M604.8,346.0L606.8,343.6L609.1,343.9L612.0,344.6L612.9,345.7L616.8,346.2L618.2,344.9L621.8,346.2L622.0,347.0L623.7,348.3L626.0,348.3L625.6,350.9L622.5,349.9L617.9,349.9L615.7,348.8L612.3,348.3L607.7,347.5L605.0,346.0L604.8,346.0Z M605.3,332.4L607.6,332.4L608.7,335.0L608.2,336.0L606.6,335.2L605.3,332.4Z M610.8,335.0L612.4,335.2L612.1,336.6L610.7,336.3L610.8,335.0Z M622.0,346.2L624.8,346.2L625.0,346.7L622.2,347.0L622.0,346.2Z M626.0,349.5L627.6,349.2L628.7,350.1L627.5,351.2L626.0,349.5Z M629.4,349.9L631.0,349.9L630.7,351.4L629.3,351.3L629.4,349.9Z M631.2,350.1L634.0,349.3L636.3,349.9L636.2,350.9L633.9,351.3L631.1,351.7L631.2,350.1Z M638.3,350.1L640.9,350.1L645.1,349.3L645.5,350.1L643.1,351.2L639.6,351.2L638.3,350.9L638.3,350.1Z M636.1,353.0L638.4,352.5L640.1,354.3L638.7,355.1L636.7,353.8L636.1,353.0Z M646.2,355.1L647.6,352.7L650.0,350.9L654.7,350.0L655.3,350.4L652.2,352.2L649.8,353.5L648.6,354.8L646.2,355.1Z M639.1,326.6L639.9,325.1L641.8,324.8L646.4,325.6L649.8,324.8L651.4,324.0L649.9,326.9L646.4,327.2L643.0,327.0L640.5,327.2L639.5,329.5L641.1,331.6L643.2,330.5L644.8,330.3L647.1,329.8L647.3,330.8L644.0,332.6L642.9,333.4L644.6,336.8L646.2,338.6L646.5,342.0L644.9,340.7L642.9,340.5L641.6,337.3L641.7,335.2L640.0,335.8L640.2,338.6L640.0,342.6L637.9,342.8L637.9,338.6L636.6,335.5L637.8,332.1L639.0,330.0L639.1,326.6Z M656.7,322.7L657.9,324.0L659.5,324.3L658.4,326.1L659.6,327.4L658.0,329.2L657.7,326.9L656.8,325.6L656.7,322.7Z M657.8,336.0L661.2,335.5L664.2,336.8L662.3,337.6L659.3,337.3L657.8,336.0Z M653.1,336.6L655.4,336.3L655.9,337.9L653.8,338.1L653.1,336.6Z M675.2,330.0L677.1,330.8L676.3,331.6L675.2,330.0Z M664.9,330.3L668.4,329.2L671.8,330.3L672.3,334.7L673.9,336.8L677.4,333.9L680.9,332.4L684.3,333.7L687.1,334.7L687.8,335.0L692.3,337.1L694.6,338.1L698.6,341.3L701.1,343.9L702.9,345.2L701.0,345.7L703.0,349.1L705.1,351.7L707.2,354.3L708.9,355.1L704.8,355.1L700.8,353.0L698.3,350.4L695.0,348.0L692.6,349.6L691.3,351.7L690.1,352.2L686.7,352.0L683.4,349.6L680.0,349.9L682.1,346.5L680.5,342.6L676.1,340.2L672.7,338.6L669.2,338.6L668.8,336.8L667.0,335.5L670.5,334.7L667.1,333.4L664.8,331.9L664.6,330.5L664.9,330.3Z M704.2,342.8L707.0,342.6L709.3,342.3L711.3,341.0L712.0,339.2L713.6,339.2L713.3,341.3L711.1,343.1L708.7,344.4L706.4,344.4L704.2,343.3L704.2,342.8Z M710.1,335.0L712.6,336.0L714.8,338.6L715.4,340.5L714.5,340.2L712.6,337.3L710.3,335.5L710.1,335.0Z M718.8,342.3L720.3,343.3L721.4,346.0L720.1,345.7L718.9,343.6L718.8,342.3Z M389.4,229.0L391.3,228.5L396.2,228.2L395.3,230.8L395.4,232.4L393.6,231.9L389.7,230.1L389.4,229.0Z M380.0,221.4L382.2,220.6L383.6,222.5L383.3,225.9L382.0,226.4L380.7,226.1L380.6,223.0L380.0,221.4Z M380.7,217.6L382.3,216.1L382.9,218.1L382.2,220.2L380.9,218.9L380.7,217.6Z M413.8,235.5L415.9,235.3L419.9,236.0L419.8,236.8L416.5,237.1L413.8,236.2L413.8,235.5Z M433.0,236.7L434.4,235.9L437.7,235.0L436.7,236.9L434.7,238.0L433.3,237.5L433.0,236.7Z M384.3,185.2L384.4,183.9L385.7,183.0L386.9,183.2L386.9,184.2L385.9,185.8L384.3,185.2Z M381.6,184.5L383.3,184.5L383.4,185.6L382.0,185.4L381.6,184.5Z M397.0,180.6L398.1,178.6L398.8,178.6L398.3,180.1L397.4,180.9L397.0,180.6Z M403.8,177.7L404.8,176.9L406.1,177.2L405.3,177.9L404.1,178.4L403.8,177.7Z M367.9,224.8L369.4,224.1L370.0,224.6L369.4,225.6L368.1,225.2L367.9,224.8Z M412.4,226.7L414.6,227.5L415.6,229.0L414.2,228.2L412.8,227.2L412.4,226.7Z M689.7,356.1L691.3,360.8L691.4,365.5L694.6,367.4L695.1,372.6L694.8,377.3L699.1,380.9L700.2,383.8L702.6,386.9L702.6,389.6L705.0,393.5L706.2,394.0L704.8,398.7L704.3,402.6L700.9,407.8L697.8,412.3L693.2,416.4L690.7,419.6L686.7,423.5L685.1,426.1L680.4,427.1L675.0,430.3L673.3,428.4L672.9,427.9L669.5,429.5L665.9,428.2L664.2,427.4L664.1,424.3L664.2,421.1L663.2,420.9L664.1,419.1L665.0,414.4L665.0,413.3L662.1,416.2L658.7,419.1L657.3,418.3L656.7,414.4L656.1,412.0L651.3,410.4L646.8,410.7L639.5,412.5L634.4,414.4L632.4,416.7L629.1,416.7L624.8,416.7L619.4,419.6L615.1,419.3L613.5,417.8L615.9,415.1L617.1,411.7L617.0,407.8L617.4,403.4L616.9,400.0L616.6,396.1L617.2,394.8L618.4,390.9L618.5,388.2L619.4,386.9L620.4,385.1L621.5,385.1L623.9,383.0L627.1,382.0L631.3,381.2L634.7,380.2L638.5,377.8L640.5,375.2L642.2,372.1L643.9,373.6L644.1,372.6L645.4,370.5L646.8,368.7L649.5,366.1L652.7,364.5L654.8,366.1L655.5,367.4L657.4,367.1L659.0,364.8L661.0,361.6L662.3,360.6L665.1,360.1L666.7,358.0L668.7,359.0L672.4,360.1L676.2,359.5L675.0,362.9L673.8,363.4L672.2,366.8L674.5,369.5L676.6,370.8L679.2,372.6L680.2,374.2L683.0,374.2L685.1,370.0L686.5,366.1L686.8,362.1L687.9,359.5L688.9,356.9L689.7,356.1Z M669.2,434.4L671.9,435.4L676.4,434.7L674.5,437.8L671.6,440.9L668.6,441.9L667.1,441.6L667.4,439.0L668.2,435.9L669.2,434.4Z M739.1,418.0L740.0,419.6L740.8,421.7L739.8,424.3L741.6,423.5L741.0,426.1L742.6,427.1L746.2,426.6L743.4,429.2L742.3,430.5L739.9,431.3L738.2,433.4L734.4,435.7L732.1,436.7L731.7,435.9L734.0,433.9L734.8,432.6L733.5,431.3L733.4,430.8L736.0,429.5L737.9,426.9L738.6,424.8L739.2,423.2L739.0,420.9L739.0,418.3L739.1,418.0Z M728.9,433.9L728.3,435.7L731.0,435.4L729.0,437.5L727.1,438.8L723.2,441.4L723.0,442.4L718.3,443.7L714.5,447.0L713.6,447.8L709.6,449.6L707.4,449.6L706.4,448.6L704.8,448.0L705.4,447.3L709.6,444.7L712.6,442.9L717.8,440.9L721.9,438.8L724.7,436.7L727.0,434.7L728.9,433.9Z M705.1,450.1L706.3,450.3L705.0,451.4L704.2,451.1L705.1,450.1Z M734.2,380.7L737.0,383.0L739.5,386.4L738.1,386.4L734.7,383.0L734.2,380.7Z M729.4,352.5L732.0,353.5L731.5,354.2L729.5,353.5L729.4,352.5Z M731.9,350.1L733.4,353.0L732.7,353.3L731.6,350.7L731.9,350.1Z M727.0,347.8L730.0,350.1L729.5,350.5L727.0,348.6L727.0,347.8Z M722.6,345.7L725.0,347.3L724.5,347.8L722.8,346.5L722.6,345.7Z M733.0,355.1L735.2,355.9L734.6,356.5L732.9,355.6L733.0,355.1Z M723.7,349.1L725.5,349.6L725.4,350.7L724.1,350.1L723.7,349.1Z M743.3,366.6L744.6,367.4L744.2,368.9L743.1,368.9L743.3,366.6Z M744.0,370.0L745.1,370.8L744.5,371.5L743.9,371.0L744.0,370.0Z M745.3,374.2L746.2,374.3L745.8,374.8L745.1,374.7L745.3,374.2Z M766.0,373.9L768.4,373.6L768.9,375.2L766.7,375.8L765.8,374.9L766.0,373.9Z M769.4,372.1L772.8,370.5L772.5,371.5L770.2,372.6L769.4,372.1Z M501.0,456.2L503.1,454.9L504.7,456.2L503.7,457.2L501.8,457.3L501.0,456.2Z"/><clipPath id="landclip"><use href="#land"/></clipPath></defs>
<use href="#land" fill="#e8f3ea"/>
<g clip-path="url(#landclip)">
<path d="M105.9,243.3L111.3,242.8L110.9,243.3L118.1,246.4L124.4,246.4L124.8,245.2L128.5,245.2L130.9,248.0L131.2,250.9L133.7,252.5L135.7,250.4L138.2,250.4L139.7,254.3L141.0,256.4L141.2,259.3L145.3,260.4L150.1,260.6L169.1,268.2L167.5,280.4L162.3,279.9L160.2,281.3L160.1,281.7L155.9,281.7L155.8,283.2L154.8,283.2L156.8,285.4L156.8,286.2L153.8,286.2L152.5,289.0L152.2,290.3L150.0,294.3L121.5,283.8L110.0,270.8L100.1,255.1L103.9,243.3L105.9,243.3Z" fill="#b30000" stroke="#7c8982" stroke-width="0.5" stroke-linejoin="round"/>
<path d="M243.9,316.7L241.8,321.4L240.9,322.5L237.2,322.2L233.9,323.2L232.6,323.1L227.2,325.1L225.2,323.5L224.7,321.7L225.5,318.0L224.6,314.9L223.0,314.6L221.1,316.7L218.1,317.8L215.4,317.8L214.2,317.5L214.8,321.7L216.7,322.5L211.8,326.1L209.9,326.2L208.6,325.1L208.1,323.8L206.5,323.5L201.9,323.8L201.9,325.3L203.2,325.6L202.8,326.4L201.4,326.6L201.3,328.7L202.8,331.1L201.7,339.2L199.7,339.2L194.9,341.8L194.3,344.1L192.6,347.8L195.1,352.0L197.0,354.3L200.7,353.0L200.9,356.9L203.2,356.8L205.7,357.2L209.9,354.0L212.9,353.8L213.1,358.2L215.3,360.6L218.6,361.1L221.5,363.4L224.5,364.2L225.6,370.8L229.7,370.8L230.2,373.4L232.1,375.2L231.7,377.8L231.0,379.9L231.1,380.8L232.2,385.9L236.5,386.4L237.5,387.5L238.2,390.9L240.7,391.1L240.5,395.0L242.7,396.9L242.8,399.1L238.7,402.1L235.4,407.0L239.2,408.9L240.1,408.9L243.6,411.5L245.7,413.3L246.4,413.6L246.2,416.3L250.2,422.2L274.2,406.5L293.9,354.3L286.7,328.2L252.3,315.1L243.9,316.7Z" fill="#e34a33" stroke="#7c8982" stroke-width="0.5" stroke-linejoin="round"/>
<path d="M185.0,305.5L183.6,309.4L181.0,312.5L178.4,323.0L181.0,324.5L183.6,326.1L184.3,327.2L186.8,327.2L188.4,328.1L189.3,328.5L191.2,329.5L192.9,331.6L194.8,334.5L198.0,334.2L201.4,335.2L199.9,338.1L200.8,338.1L201.7,339.2L202.8,331.1L201.3,328.7L201.4,326.6L202.8,326.4L203.2,325.6L201.9,325.3L201.9,323.8L206.5,323.5L208.1,323.8L208.6,325.1L207.7,321.7L207.5,319.3L206.6,317.2L206.7,314.4L207.5,312.0L203.1,312.3L201.6,309.9L199.5,309.9L196.3,308.9L196.2,306.5L195.2,303.4L197.0,299.2L199.3,297.3L200.3,294.3L188.7,296.9L185.0,305.5Z" fill="#fc8d59" stroke="#7c8982" stroke-width="0.5" stroke-linejoin="round"/>
<path d="M181.0,324.5L183.6,326.1L184.3,327.2L186.8,327.2L188.4,328.1L189.3,328.5L189.4,330.5L188.5,332.1L186.0,335.0L183.5,336.0L182.4,337.1L182.2,338.4L181.5,340.2L180.9,341.3L179.4,339.9L177.6,339.7L178.0,338.4L177.8,337.1L176.2,336.8L173.8,333.4L174.9,325.6L178.4,323.0L181.0,324.5Z" fill="#fc8d59" stroke="#7c8982" stroke-width="0.5" stroke-linejoin="round"/>
<path d="M200.3,275.7L200.2,276.6L200.3,278.3L199.5,279.6L199.9,280.4L199.8,281.1L199.7,281.7L193.2,281.7L193.5,278.6L196.1,275.9L200.3,275.7Z" fill="#fc8d59" stroke="#7c8982" stroke-width="0.5" stroke-linejoin="round"/>
<path d="M369.0,312.5L369.1,307.8L369.0,304.7L371.1,301.3L371.0,297.7L371.2,295.6L372.2,293.0L375.4,291.9L377.4,292.7L380.6,293.5L383.4,294.8L385.7,293.5L390.3,294.0L393.9,292.4L395.1,294.3L396.3,298.2L394.4,299.5L393.1,303.1L392.2,305.5L390.4,308.6L388.8,310.7L387.2,309.9L386.0,310.2L385.3,310.4L383.3,313.1L383.1,314.6L382.4,315.9L382.4,319.1L374.3,319.1L369.0,312.5Z" fill="#e34a33" stroke="#7c8982" stroke-width="0.5" stroke-linejoin="round"/>
<path d="M382.4,315.9L383.1,314.6L383.3,313.1L385.3,310.4L386.0,310.2L387.2,309.9L388.8,310.7L390.4,308.6L392.2,305.5L393.1,303.1L394.4,299.5L396.3,298.2L395.1,294.3L396.0,294.5L396.9,296.3L397.4,297.7L397.2,299.7L398.4,302.1L395.4,302.1L394.8,303.1L397.7,306.0L398.4,308.6L396.4,312.0L396.2,314.4L397.4,317.2L397.6,318.5L399.9,322.5L399.9,323.8L396.2,322.5L393.5,322.5L389.0,322.5L385.4,322.2L383.5,322.2L382.4,318.5L382.4,315.9Z" fill="#fdbb84" stroke="#7c8982" stroke-width="0.5" stroke-linejoin="round"/>
<path d="M371.0,297.7L371.2,295.6L372.2,293.0L375.4,291.9L377.4,292.7L380.6,293.5L383.4,294.8L385.7,293.5L390.3,294.0L393.9,292.4L393.6,290.3L398.1,284.1L398.4,276.2L397.9,273.6L396.9,272.6L396.6,268.2L394.8,269.2L389.7,266.8L379.8,273.6L375.9,277.3L372.4,278.2L372.4,285.4L370.8,288.0L365.8,288.3L363.3,289.2L363.7,291.6L365.1,294.0L367.6,295.0L368.3,296.9L369.3,295.8L371.0,297.7Z" fill="#fdbb84" stroke="#7c8982" stroke-width="0.5" stroke-linejoin="round"/>
<path d="M393.9,292.4L395.1,294.3L396.0,294.5L396.9,296.3L397.4,297.7L397.2,299.7L398.4,302.1L395.4,302.1L394.8,303.1L397.7,306.0L398.4,308.6L401.0,308.1L403.5,307.6L406.2,305.2L406.4,304.7L409.7,304.4L412.6,300.5L415.3,299.7L414.4,299.5L412.7,295.0L413.6,294.0L414.2,291.1L415.0,287.7L417.5,287.2L417.2,277.3L398.8,267.0L396.6,268.2L396.9,272.6L397.9,273.6L398.4,276.2L398.1,284.1L393.6,290.3L393.9,292.4Z" fill="#fc8d59" stroke="#7c8982" stroke-width="0.5" stroke-linejoin="round"/>
<path d="M372.4,278.2L370.3,278.6L370.1,276.5L366.9,275.2L365.4,273.1L352.0,262.9L348.1,262.9L350.0,285.1L350.7,285.6L350.3,287.7L341.6,287.7L338.4,288.0L336.6,287.5L334.9,289.6L335.4,292.4L336.7,295.8L338.3,297.1L340.6,296.3L342.6,297.9L343.5,299.5L344.5,301.6L348.6,300.5L350.2,301.0L350.7,297.4L352.7,296.1L353.0,294.0L355.0,293.7L356.2,292.2L358.2,291.1L361.2,288.8L363.3,289.2L365.8,288.3L370.8,288.0L372.4,285.4L372.4,278.2Z" fill="#fc8d59" stroke="#7c8982" stroke-width="0.5" stroke-linejoin="round"/>
<path d="M350.2,301.0L350.7,297.4L352.7,296.1L353.0,294.0L355.0,293.7L356.2,292.2L358.2,291.1L361.2,288.8L363.3,289.2L363.7,291.6L365.1,294.0L367.6,295.0L368.3,296.9L364.9,299.5L362.5,299.2L356.3,299.5L356.4,303.1L355.5,302.4L352.0,302.9L350.2,301.0Z" fill="#fdbb84" stroke="#7c8982" stroke-width="0.5" stroke-linejoin="round"/>
<path d="M398.4,308.6L401.0,308.1L403.5,307.6L406.2,305.2L406.4,304.7L409.7,304.4L412.6,300.5L415.3,299.7L416.8,302.9L418.2,305.5L420.7,307.8L423.5,311.0L426.0,315.0L421.5,314.6L419.2,314.9L416.7,316.2L414.6,317.5L411.2,316.7L407.7,314.9L405.6,317.0L405.7,319.1L403.1,318.8L401.0,319.1L399.9,322.5L397.6,318.5L397.4,317.2L396.2,314.4L396.4,312.0L398.4,308.6Z" fill="#fdbb84" stroke="#7c8982" stroke-width="0.5" stroke-linejoin="round"/>
<path d="M418.2,305.5L420.0,302.6L423.7,303.4L426.9,303.1L428.9,303.7L429.4,302.9L431.6,301.3L434.0,302.6L436.2,299.5L437.0,297.7L438.6,296.3L439.0,300.0L440.6,303.4L441.1,303.4L441.2,305.7L439.1,306.3L438.7,307.6L441.0,309.4L442.6,310.7L443.6,313.6L445.2,314.4L445.5,316.2L441.1,317.2L438.8,318.0L436.1,318.3L433.9,319.1L430.7,316.2L428.2,317.0L426.0,315.0L423.5,311.0L420.7,307.8L418.2,305.5Z" fill="#fc8d59" stroke="#7c8982" stroke-width="0.5" stroke-linejoin="round"/>
<path d="M441.1,303.4L441.5,300.5L442.8,299.7L443.2,297.4L445.4,295.0L446.3,291.0L448.7,290.9L449.3,289.3L451.9,290.1L454.6,290.6L457.0,293.2L459.9,295.6L458.6,297.7L458.7,299.5L461.0,299.6L461.4,299.5L460.8,300.5L462.9,303.7L463.9,304.7L470.8,307.3L473.1,307.3L466.4,315.1L463.0,315.7L461.4,317.0L459.3,317.8L456.8,317.2L454.5,318.0L453.8,319.3L450.6,318.8L447.8,316.7L445.7,316.6L445.5,316.2L445.2,314.4L443.6,313.6L442.6,310.7L441.0,309.4L438.7,307.6L439.1,306.3L441.2,305.7L441.1,303.4Z" fill="#fc8d59" stroke="#7c8982" stroke-width="0.5" stroke-linejoin="round"/>
<path d="M461.4,299.5L461.9,298.3L463.6,296.9L482.9,294.3L483.4,304.7L466.6,330.8L458.6,334.2L458.6,332.5L457.3,330.3L457.3,320.9L459.3,317.8L461.4,317.0L463.0,315.7L466.4,315.1L473.1,307.3L470.8,307.3L463.9,304.7L462.9,303.7L460.8,300.5L461.4,299.5Z" fill="#fc8d59" stroke="#7c8982" stroke-width="0.5" stroke-linejoin="round"/>
<path d="M441.1,317.2L445.5,316.2L445.7,316.6L447.8,316.7L450.6,318.8L453.8,319.3L454.5,318.0L456.8,317.2L459.3,317.8L457.3,320.9L457.3,330.3L458.6,332.5L459.6,336.0L456.0,342.6L453.1,340.4L449.7,337.3L449.4,336.0L441.0,330.8L441.0,327.9L441.4,327.2L442.3,325.3L443.5,323.8L443.2,321.7L442.1,318.8L441.1,317.2Z" fill="#fdbb84" stroke="#7c8982" stroke-width="0.5" stroke-linejoin="round"/>
<path d="M426.0,315.0L421.5,314.6L419.2,314.9L416.7,316.2L414.6,317.5L411.2,316.7L407.7,314.9L405.6,317.0L405.7,319.1L404.5,321.9L403.8,326.9L403.6,329.5L400.1,333.9L400.1,336.8L399.4,338.4L397.8,339.4L396.0,341.0L393.7,341.0L393.0,340.2L391.6,343.1L390.9,343.2L390.2,343.6L390.4,344.4L391.1,344.0L393.6,343.6L401.0,343.6L401.9,347.3L404.2,349.3L407.4,349.1L408.6,346.5L410.2,346.5L412.9,347.3L413.1,350.4L413.0,353.3L413.9,356.4L413.9,357.4L417.8,356.6L418.7,358.0L420.8,357.4L422.4,359.3L425.1,358.5L427.8,360.8L429.2,363.2L431.0,363.3L431.1,359.9L429.3,360.6L427.9,359.0L428.4,356.1L428.7,353.8L428.0,352.5L429.2,350.4L433.5,349.6L430.9,345.2L430.5,339.8L430.1,336.8L429.7,335.2L430.1,332.6L431.0,331.8L431.1,329.5L431.9,326.1L434.9,322.6L433.8,321.9L433.9,319.1L430.7,316.2L428.2,317.0L426.0,315.0Z" fill="#fc8d59" stroke="#7c8982" stroke-width="0.5" stroke-linejoin="round"/>
<path d="M455.5,355.6L451.1,358.0L448.7,358.7L444.9,358.2L442.9,358.4L441.9,363.4L442.6,363.4L444.8,367.1L444.4,370.0L443.1,372.9L441.0,369.5L441.8,368.1L441.4,365.8L438.7,364.8L431.8,367.4L432.1,368.9L434.2,370.0L437.7,371.8L437.8,375.2L437.0,377.8L437.6,379.9L436.3,383.0L433.4,386.7L434.5,391.6L434.4,395.8L434.4,396.1L434.5,398.3L436.3,398.3L438.7,398.7L446.0,390.9L446.6,380.4L458.5,370.0L459.2,355.6L455.5,355.6Z" fill="#fdbb84" stroke="#7c8982" stroke-width="0.5" stroke-linejoin="round"/>
<path d="M460.2,285.4L461.1,282.8L464.0,282.8L468.4,283.3L470.9,283.8L472.3,280.7L474.3,279.6L480.8,278.6L483.7,284.7L484.9,287.7L465.9,297.4L461.7,296.1L458.8,291.6L460.2,285.4Z" fill="#fdbb84" stroke="#7c8982" stroke-width="0.5" stroke-linejoin="round"/>
<path d="M440.1,234.5L441.1,234.6L441.9,233.7L441.9,232.1L443.7,232.5L446.5,232.4L450.7,231.4L454.0,231.3L451.8,233.2L452.6,235.3L452.1,238.4L447.7,241.1L443.6,243.9L441.5,242.8L441.0,242.8L441.1,241.3L442.6,238.9L441.8,237.7L441.1,237.7L440.1,237.7L439.7,234.5L440.1,234.5Z" fill="#fc8d59" stroke="#7c8982" stroke-width="0.5" stroke-linejoin="round"/>
<path d="M501.0,262.4L501.0,259.8L503.9,258.2L504.0,257.2L502.5,254.3L497.9,250.4L497.6,250.2L501.4,251.4L504.9,251.2L509.6,250.1L509.3,247.5L512.2,246.2L515.2,244.9L515.0,242.0L516.6,241.3L515.6,239.4L517.8,238.9L518.3,236.0L516.8,234.0L519.2,232.1L523.5,231.5L524.0,231.1L526.6,232.7L529.5,235.3L531.6,235.5L530.2,236.8L530.0,237.6L527.2,237.9L523.9,237.6L523.7,238.6L524.8,241.5L526.3,242.6L528.4,243.9L527.3,247.0L526.4,249.9L524.6,252.5L522.9,255.4L520.0,255.1L518.1,257.2L520.1,258.8L520.0,260.8L522.3,264.5L517.4,264.8L516.2,266.3L513.7,268.2L501.2,264.2L501.0,262.4Z" fill="#fc8d59" stroke="#7c8982" stroke-width="0.5" stroke-linejoin="round"/>
<path d="M531.6,235.5L534.7,238.4L535.7,241.5L535.7,243.3L536.1,246.0L537.5,247.3L542.1,249.4L540.7,253.0L543.4,254.1L548.5,256.7L552.7,258.5L559.8,259.3L559.1,255.4L560.4,254.8L561.1,256.9L561.6,258.2L568.2,258.1L568.1,256.4L566.9,255.6L569.5,253.8L573.6,252.0L576.1,251.4L579.3,254.4L579.2,257.2L575.8,260.1L575.2,263.7L572.8,265.5L573.3,270.2L571.8,270.8L570.7,268.4L569.6,266.8L568.0,266.6L567.8,265.3L569.8,263.7L570.2,262.9L565.6,262.4L563.8,260.6L561.3,259.3L560.4,259.0L560.1,260.8L562.2,262.4L560.8,263.7L562.1,265.0L562.8,267.6L563.7,270.5L564.0,271.5L564.3,273.4L558.2,281.2L548.3,296.9L545.6,303.1L544.3,304.4L541.1,309.9L528.3,307.3L512.0,273.4L516.2,266.3L517.4,264.8L522.3,264.5L520.0,260.8L520.1,258.8L518.1,257.2L520.0,255.1L522.9,255.4L524.6,252.5L526.4,249.9L527.3,247.0L528.4,243.9L526.3,242.6L524.8,241.5L523.7,238.6L523.9,237.6L527.2,237.9L530.0,237.6L530.2,236.8L531.6,235.5Z" fill="#fdbb84" stroke="#7c8982" stroke-width="0.5" stroke-linejoin="round"/>
<path d="M571.8,270.8L570.7,268.4L569.6,266.8L568.0,266.6L567.8,265.3L569.8,263.7L570.2,262.9L565.6,262.4L563.8,260.6L561.3,259.3L560.4,259.0L560.1,260.8L562.2,262.4L560.8,263.7L562.1,265.0L562.8,267.6L563.7,270.5L564.0,271.5L564.3,273.4L571.2,274.4L571.6,273.9L571.8,270.8Z" fill="#fc8d59" stroke="#7c8982" stroke-width="0.5" stroke-linejoin="round"/>
<path d="M687.9,330.8L687.8,335.0L687.1,346.2L686.6,352.5L691.2,353.0L695.7,354.3L711.0,359.5L721.9,349.1L722.9,330.8L687.9,330.8Z" fill="#fc8d59" stroke="#7c8982" stroke-width="0.5" stroke-linejoin="round"/>
<path d="M238.5,313.2L237.4,315.4L238.4,319.1L237.2,322.2L240.9,322.5L241.8,321.4L243.9,316.7L245.3,315.1L240.9,311.2L238.5,313.2Z" fill="#f4f4f4" stroke="#7c8982" stroke-width="0.5" stroke-linejoin="round"/>
<path d="M732.3,379.1L743.7,379.1L741.2,388.2L730.0,388.2L732.3,379.1Z" fill="#f4f4f4" stroke="#7c8982" stroke-width="0.5" stroke-linejoin="round"/>
<path d="M128.3,151.3L103.9,172.8L106.9,173.3L107.0,176.2L110.0,175.0L113.0,174.7L113.5,177.4L113.0,180.8L114.6,183.2L111.5,186.4 M114.6,200.7L171.1,200.7L172.2,199.8L176.7,202.2L181.3,203.3L183.9,202.5L189.6,206.1L189.8,207.1L191.2,208.1L192.6,210.1L190.6,216.1L188.3,218.1L189.1,219.4L197.5,216.6L197.8,215.3L199.3,214.5L202.8,214.5L204.4,213.0L207.8,210.9L215.0,210.9L216.8,209.9L218.7,207.6L222.0,204.7L223.7,204.9L224.5,205.7L223.3,209.1L223.7,210.4L224.2,211.2 M160.1,281.7L159.4,286.7L160.1,286.7 M161.4,287.2L159.1,289.3L158.7,290.6L156.8,292.3 M158.7,290.6L160.5,291.8L162.1,291.9L162.0,293.2 M163.0,294.3L164.6,292.2L166.7,291.9L169.1,289.6L172.8,289.0 M166.3,299.2L168.3,299.5L170.8,299.7 M172.2,307.2L172.6,305.0L173.1,303.3 M200.2,276.6L200.3,278.3L199.5,279.6L199.9,280.4L199.8,281.1 M224.9,306.0L222.3,309.9L223.2,310.4L221.5,312.7L223.0,314.6 M231.4,312.7L230.8,314.6L229.2,317.8L230.8,319.5L232.6,323.1 M238.5,313.2L237.4,315.4L238.4,319.1L237.2,322.2 M203.2,356.8L205.5,360.8L205.0,364.0L205.3,365.3L204.3,366.8L204.9,368.1L203.8,369.2L205.6,370.5L204.4,373.1L204.8,373.9L202.9,376.1 M204.8,373.9L206.5,377.8L207.7,378.9L207.3,381.7L209.2,384.3L209.8,387.7L211.4,387.7 M211.4,387.7L213.3,385.1L217.3,386.2L217.9,387.7L218.6,385.6L221.5,386.3 M221.5,386.3L221.8,381.7L222.7,379.5L228.8,378.6L231.1,380.8 M221.5,386.3L225.6,390.3L230.8,392.9L233.7,394.8L232.1,399.2L237.3,399.7L238.4,399.7L240.5,395.0 M235.4,407.0L235.1,413.1L235.3,416.7 M211.4,387.7L212.2,390.9L209.2,392.2L210.3,398.4L208.3,406.5L208.0,410.4L209.6,414.9L210.6,417.5L209.9,420.1L209.3,423.5L211.1,428.7L210.4,432.6L211.9,437.8L213.3,442.9L215.8,446.5L216.1,450.1L216.3,454.4L216.1,458.2L218.8,460.0L219.9,462.5L221.1,463.2L224.8,463.2L228.2,464.1 M228.2,464.9L230.6,470.5 M201.7,339.2L200.8,338.1 M344.2,218.9L345.6,218.5L348.9,218.8L349.7,219.7L348.2,221.2L347.9,224.6L346.8,224.7L347.9,226.4L347.2,228.0L347.8,228.5L346.7,230.3L346.9,231.1 M359.0,215.2L364.3,216.8L366.4,217.4L369.4,217.5 M378.4,214.0L378.8,213.0L377.1,212.4L377.3,210.6L376.8,208.9L377.3,208.6 M377.3,208.6L376.7,207.3L375.3,207.8L375.3,207.0L377.0,204.8L378.3,204.3 M378.3,204.3L378.2,202.7L379.3,200.7L375.7,199.4L375.6,199.5L374.4,199.3L372.4,197.9L371.2,198.3L369.2,196.4L367.9,195.4 M369.5,194.7L371.3,194.7L372.7,194.5L374.3,195.3L374.1,196.2L374.7,196.3 M374.7,196.3L375.4,197.4L375.0,197.8L375.8,198.7L375.6,199.5 M375.0,197.8L374.3,198.7L374.4,199.3 M374.7,196.3L375.1,194.7L374.6,193.5L376.2,193.3L376.7,192.5L375.9,191.5L376.7,191.0L376.9,190.0 M379.5,185.9L381.0,186.2 M390.4,188.4L390.9,189.9L390.5,191.0L391.6,191.8L392.0,194.2L392.6,195.4L392.3,196.0 M392.3,196.0L391.2,195.5L388.7,197.0L387.0,197.4L387.8,198.4L388.7,199.9L390.7,201.3 M390.7,201.3L389.9,202.4L388.6,203.0L389.2,204.3L387.6,204.1L384.2,204.5L382.3,204.4L380.3,203.9L378.3,204.3 M382.3,204.4L382.3,205.6L384.1,206.1L383.5,207.6L381.8,207.2L381.3,208.7L380.1,207.3L378.9,208.5L377.3,208.6 M384.1,206.1L385.7,205.9L387.7,205.7L388.2,206.6L390.8,207.0L390.3,207.8L390.8,208.9L391.1,209.4 M390.8,207.0L392.6,207.3L394.8,206.6L395.7,206.2L396.4,204.8L397.5,204.0L397.6,203.3 M390.7,201.3L392.5,201.7L393.0,200.7L395.3,201.3L397.0,201.7L397.6,203.3 M392.3,196.0L393.2,195.8L395.4,196.5L395.1,197.2L396.5,197.2L398.1,197.4L400.6,199.4 M400.6,199.4L399.2,200.5L397.5,201.1L397.0,201.7 M400.6,199.4L401.9,199.2L402.8,200.2L404.8,199.8L408.2,200.5 M397.6,203.3L399.2,203.9L401.1,203.8L402.7,202.7L404.2,201.9L407.6,202.2L408.2,200.5 M408.2,200.5L408.4,199.2L410.7,196.9L410.7,196.0L409.5,194.4L409.4,192.9L408.4,192.4L409.7,191.4L408.4,188.3L406.9,187.3L400.8,187.1 M406.9,187.3L406.3,185.6L403.7,185.1 M408.4,188.3L410.2,188.4L412.6,187.4L412.1,185.9L413.9,184.9L413.8,184.0L416.5,182.9 M413.8,184.0L410.4,182.5L408.5,182.5L404.8,182.3L403.0,183.1 M416.5,182.9L415.0,179.8L414.3,179.5L411.6,178.8L410.2,178.3L408.5,178.7 M414.3,179.5L414.8,178.8L413.9,176.7L414.5,175.2L414.9,174.9 M413.7,172.2L416.1,170.5L419.2,166.7L416.0,164.6L416.3,162.3L414.5,160.5L413.8,155.8L411.9,154.9L410.6,153.1L411.3,152.7L414.0,151.0 M411.3,152.7L411.6,151.7L409.1,150.4L406.0,151.3L405.9,152.8L404.7,153.7L400.5,153.5L397.2,152.7 M397.2,152.7L402.9,155.3L403.1,156.6L404.7,160.0 M397.2,152.7L396.6,154.2L393.3,154.0L390.4,156.2L389.4,158.9L387.9,159.3L387.8,161.6L386.9,162.7L387.6,163.1L384.3,165.1L384.9,169.5L386.2,170.4L385.2,171.2L385.9,172.6L384.6,174.0L384.5,176.0L383.4,175.7 M416.5,182.9L420.1,183.6L422.0,184.2L422.2,186.2L424.6,188.7L426.6,189.7L424.2,190.4L425.4,192.9 M425.4,192.9L423.4,194.9L420.8,194.7L417.8,194.2L413.1,193.4L409.5,194.4 M425.4,192.9L429.3,192.3L433.6,197.2L437.6,197.2L440.8,198.7L443.3,199.2L443.2,201.7L443.8,203.5L440.7,204.3L440.7,205.6 M407.6,202.2L409.2,203.3L413.4,204.0L416.7,202.6L419.0,202.1L422.0,203.5L424.5,207.3L420.9,209.8L424.1,210.4 M416.7,202.6L420.2,206.1L420.9,209.8 M409.2,203.3L406.2,207.3L404.4,208.0L401.6,208.6L399.2,208.5L396.8,207.1L395.7,206.2 M396.8,207.1L394.8,207.8L394.3,209.6L392.9,209.2L390.8,209.8 M401.6,208.6L402.1,210.4L402.1,211.3L397.9,210.4L395.4,210.4L395.4,211.4L396.4,213.0L399.3,215.5L401.6,217.1L401.5,217.4 M402.1,211.3L403.1,212.7L403.4,214.5L402.8,214.8L401.8,215.5L401.5,217.4 M404.4,208.0L407.0,210.4L407.1,211.4L409.4,211.7L409.8,213.0L410.7,214.0L415.9,214.4L418.9,213.1L422.2,214.1 M409.8,213.0L409.5,214.8L410.8,215.7L409.7,217.9L411.2,219.3L411.2,220.3L414.4,219.9L418.2,219.4L420.6,218.5L421.7,218.6 M402.8,214.8L405.4,216.5L404.8,217.2L403.9,217.2L403.6,219.0 M404.8,217.2L406.1,218.9L406.1,220.5L407.1,221.5L406.6,223.5L405.4,224.6 M406.1,218.9L408.1,218.0L409.7,217.9 M405.4,216.5L406.2,215.4L407.6,216.5L408.1,218.0 M411.2,220.3L409.3,220.8L407.1,221.5 M418.3,219.4L418.9,220.5L417.9,221.9 M450.4,219.9L453.0,219.8L454.6,221.0L455.6,223.5L458.2,224.6L457.9,228.2L459.2,231.1L454.0,231.3 M446.2,215.0L451.5,215.5L456.0,216.8L460.5,218.9L463.7,220.7L465.0,219.0 M460.5,218.9L461.1,221.1L457.8,220.5L454.6,221.0 M457.8,220.5L459.3,221.7L460.9,225.6L462.1,226.7L465.0,224.6L467.5,227.8 M458.2,224.6L462.1,226.7 M459.2,231.1L462.5,234.7L461.7,238.1L463.9,241.5L468.2,245.2L468.0,247.3L470.3,250.0 M469.1,249.9L468.4,249.6L466.1,252.2L468.1,252.5L470.4,253.7 M466.1,252.2L462.0,252.0L455.4,247.0L451.6,244.9L448.9,244.3L447.7,241.1 M448.9,244.3L444.3,246.0L446.8,248.6L445.8,249.9L442.9,252.0L440.3,251.6 M440.3,251.2L440.9,247.0L440.8,243.6L441.0,242.8 M439.6,241.8L441.1,241.3 M440.8,243.6L440.0,243.3L439.6,244.7L439.9,246.2L440.8,246.0 M476.9,263.6L477.8,264.0L478.8,265.0 M478.8,265.0L479.0,268.3L487.1,269.1L488.4,270.8L487.4,276.0L480.8,278.6 M488.4,270.8L488.8,263.7L489.4,263.1 M478.8,230.7L481.6,228.9L485.4,228.4L490.3,230.3L494.9,232.5L494.7,238.9L497.1,246.0L499.1,247.3L497.6,250.2 M494.9,232.5L498.5,236.0L502.2,233.4L505.9,230.7L508.8,231.1L512.0,231.2L513.7,230.1L515.7,228.2L517.3,232.4L520.4,230.4L524.0,231.0 M473.2,219.3L478.0,218.6L481.0,220.5L483.1,220.5L485.5,216.8L488.8,218.1L489.6,220.2L494.6,223.8L499.5,226.5L505.9,230.7 M481.0,220.5L478.5,210.9L483.3,209.5L489.3,212.4L497.9,214.3L501.0,216.1L501.5,218.6L506.5,221.0L510.9,218.4L511.8,218.0L516.9,217.5L517.9,215.5L521.3,216.3L528.5,216.6L531.2,218.1 M508.8,231.1L509.4,228.5L506.6,225.9L509.3,223.3L512.0,221.7L511.1,220.2L511.8,218.0 M512.0,221.7L516.0,221.2L517.5,221.7L515.1,223.4L513.1,224.8L519.9,225.4 M519.9,225.4L521.0,227.7L524.0,231.0 M519.9,225.4L521.4,222.6L525.4,221.2L528.2,220.2L531.2,218.1 M531.2,218.1L530.8,215.9L531.6,215.7L529.4,211.9L533.1,210.4L532.3,209.5L532.0,205.3L537.2,205.7L536.1,202.2L538.7,200.5 M463.6,207.5L462.1,207.0L458.0,202.7L456.8,202.2L457.4,200.2L456.5,198.4L460.0,198.5L460.0,196.7L463.2,193.9L466.7,194.4L471.1,195.7L473.8,196.7L479.1,195.4L482.2,196.2L485.2,196.2L484.9,194.9L481.2,193.4L482.2,190.9L481.2,188.2L488.6,187.2L494.1,185.7L498.8,184.9L500.9,187.9L505.3,188.2L506.6,189.4L511.1,187.7L514.8,189.9L522.0,196.2L528.5,195.7L534.0,199.2L538.7,200.5 M538.7,200.5L542.6,198.7L546.4,196.2L553.0,198.2L558.9,198.0L558.7,196.7L557.0,195.5L557.6,192.9L565.4,194.9L568.5,197.4L574.4,197.3L578.8,198.3L581.1,199.8L585.9,199.8L590.6,197.5L596.6,198.5 M539.5,200.2L540.6,201.7L548.4,206.1L550.3,210.1L556.1,211.0L560.8,212.8L564.6,216.7L572.2,217.0L576.2,217.4L584.0,219.7L587.8,218.9L593.9,216.7L595.6,214.3L594.0,210.8L597.9,211.5L601.2,209.6L601.8,207.6L607.7,206.8L607.7,206.1L602.2,204.1L597.4,203.5L596.8,201.2L596.6,198.5 M596.6,198.5L599.4,199.4L601.0,197.3L600.2,194.0L599.7,191.8L598.5,191.7L599.3,189.9L603.5,189.3L608.4,190.5L617.4,197.4L618.5,198.7L626.2,201.1L628.7,204.0L632.0,204.0L635.2,202.2L637.7,210.6L634.9,210.1L636.5,214.8L636.6,217.5L637.1,217.9 M636.6,217.5L634.3,216.1L634.8,217.5L632.1,218.6L629.9,219.2L629.3,221.5L627.2,223.8 M634.8,229.5L634.8,228.2L637.4,227.5 M606.9,271.9L604.3,271.0L603.2,268.4L600.1,267.4L597.1,269.5L593.2,269.7L592.8,273.0L591.3,271.9L588.7,272.1L586.6,270.4L587.0,268.4L585.5,267.6L582.2,265.5L582.1,263.5L583.8,260.7L582.6,256.4L579.7,253.8L579.3,254.4 M593.2,269.7L595.2,271.8L598.2,274.9L600.5,276.5L598.6,277.5L601.6,279.6L605.2,283.9L608.3,289.0L608.4,289.8L609.0,296.1L605.7,297.7L605.4,299.7L602.5,301.0 M608.4,289.8L605.0,290.7L603.2,290.9L598.2,291.0L597.2,292.7L598.6,297.8 M603.2,290.9L603.7,287.5L601.4,285.1L600.9,282.5L597.6,280.2L594.7,280.7L592.7,282.5L592.5,277.3L590.6,277.3L589.4,275.1L591.3,271.9 M589.4,275.1L587.0,275.7L584.9,279.9L583.8,279.8L587.5,285.6L586.9,288.5L589.7,293.7L591.1,297.4L589.4,301.0L589.0,302.1 M593.1,311.4L595.5,313.4L597.8,312.0 M615.5,322.8L615.5,325.6L617.6,326.0L620.6,325.6L622.2,324.4L624.9,324.9L627.7,323.2L628.0,320.8L629.3,317.2L633.7,317.4 M625.6,316.2L627.3,317.5L628.4,316.7L627.9,315.3 M649.8,351.6L650.1,352.7 M542.1,249.4L544.4,249.1L549.3,252.7L554.2,255.1L559.1,255.4 M561.1,256.9L562.4,254.6L566.8,255.4L566.9,255.6 M333.4,256.0L343.5,256.0L343.5,253.3L347.3,251.2L351.7,249.9L354.9,247.5L356.2,245.2L360.2,244.1L358.9,240.7L359.0,238.1L358.0,236.6 M324.3,272.5L333.4,272.5L333.5,268.2L335.8,267.0L335.9,260.3L343.4,260.3L343.5,256.0 M343.5,256.9L352.0,262.9 M325.2,286.2L328.6,284.6L330.9,284.9L332.5,286.2L334.9,289.6 M324.4,292.7L328.5,292.2L331.2,293.0L328.5,293.7L324.4,294.0 M324.6,296.0L328.0,295.0L331.4,295.1L334.6,296.1L336.7,295.8 M328.4,299.6L331.4,297.7L331.4,295.1 M332.2,304.6L334.1,302.4L337.1,302.1L338.2,303.9L339.1,306.0L341.2,308.9L343.4,308.5L344.2,306.0L345.1,303.7L344.5,301.6 M336.3,310.2L339.1,306.0 M345.5,316.8L345.5,313.1L343.5,311.2L343.4,308.5 M356.4,303.1L357.1,306.8L355.4,310.4L356.4,313.6L355.7,314.9 M362.5,299.2L363.9,302.1L363.7,305.2L364.4,306.5L363.9,308.9L364.2,310.4L365.6,312.3 M364.9,299.5L364.6,301.3L366.0,303.9L366.5,307.3L366.6,312.0 M368.3,296.9L369.3,295.8L371.0,297.7 M381.3,231.7L380.5,233.2L380.8,236.8L379.2,239.4L379.4,241.5L382.6,244.4L383.8,249.4L385.3,247.3L385.5,245.4L388.0,243.6L388.1,241.7 M383.8,249.4L384.8,252.5L384.9,259.0L383.8,259.8L385.2,263.5L389.7,266.8 M418.2,245.6L418.2,249.9L419.2,270.8L419.4,276.0L417.2,276.0L417.2,277.3 M419.2,270.8L446.1,270.8 M446.3,291.0L445.9,288.8L447.0,283.6L450.5,281.2 M459.9,295.6L461.5,295.0 M461.4,299.5L461.9,298.3 M441.0,330.8L433.1,331.0L433.9,334.3L432.9,336.0L431.9,339.7L430.5,339.8 M429.7,335.2L431.9,334.5L433.9,334.3 M431.0,331.8L433.1,331.0 M442.9,358.4L442.0,354.3L440.6,353.0L438.5,352.7L434.5,350.7L433.5,349.6 M438.5,352.7L439.2,356.4L438.8,360.8L437.6,363.7L438.7,364.8 M388.4,338.5L390.2,337.3L390.5,334.5L391.6,334.3L392.8,334.5L396.0,333.2L396.2,329.8L394.9,328.2L395.8,324.8L393.5,324.8L393.5,322.5 M389.0,322.5L389.0,325.6L385.4,325.6 M390.4,341.3L391.8,339.7L393.0,340.2 M389.5,373.2L393.5,372.6L394.6,373.6L404.7,373.6L410.5,375.1L416.0,374.2L420.2,374.7 M416.0,374.2L412.9,370.5L413.1,362.1L417.7,362.1L417.8,356.6 M420.2,374.7L418.2,375.2L415.7,375.2L410.5,376.0L410.2,385.6L407.9,385.6L407.7,392.8L407.3,402.3L405.0,403.7L401.5,403.1L399.4,402.9 M407.7,392.8L409.3,398.2L411.3,398.3L414.4,394.3L419.9,395.3L423.3,390.1L429.0,386.2L433.4,386.7 M429.0,386.2L425.5,381.7L422.2,377.8L420.2,374.7L424.2,375.1L428.7,369.8L432.1,368.9 M422.6,405.5L425.0,403.4L427.0,403.1L428.0,405.2L427.2,406.5L425.1,408.1L423.4,407.3L422.6,405.5 M431.7,397.1L432.9,395.4L434.4,396.1L434.5,398.3L432.6,399.5L431.6,398.2L431.7,397.1" fill="none" stroke="#7c8982" stroke-width="0.5" stroke-linejoin="round"/>
</g>
<path d="M424.0,220.7L429.3,220.7L433.2,218.6L436.4,218.5L439.8,220.5L443.1,221.2L447.4,221.2L450.3,219.9L450.2,218.4L448.5,216.1L445.6,214.8L441.6,212.4L439.3,210.9L438.9,210.1L440.4,209.1L441.2,207.8L443.0,205.6L440.7,205.6L437.8,206.6L435.0,207.8L434.8,209.1L437.8,209.9L436.0,210.9L433.9,212.2L432.2,211.9L429.8,210.1L431.8,208.4L428.4,207.6L426.2,206.8L424.4,208.4L424.1,210.1L422.4,213.0L421.3,215.5L420.9,217.4L421.7,218.6L424.0,220.7Z M459.9,210.9L461.4,208.4L463.1,207.1L466.9,205.8L471.2,206.6L472.1,210.1L468.8,210.9L467.1,212.2L469.3,215.5L472.7,216.6L473.9,219.9L475.9,221.2L475.5,223.8L476.9,225.6L478.2,229.0L479.2,231.6L475.0,232.4L471.0,230.8L469.2,230.3L467.5,228.0L467.7,225.6L469.5,223.0L467.6,222.0L465.3,219.2L464.3,218.6L462.1,216.1L461.5,213.5L459.6,212.2L459.9,210.9Z M420.0,222.6L422.2,222.8L424.9,222.3L424.6,221.5L422.0,221.2L420.6,221.9L420.0,222.6Z" fill="#fff" stroke="#7c8982" stroke-width="0.5" stroke-linejoin="round"/>
<use href="#land" fill="none" stroke="#7c8982" stroke-width="0.5" stroke-linejoin="round"/>
</g>
<g id="header">
<text x="16" y="38.8" font-family="'Liberation Serif',serif" font-weight="bold" font-size="26" fill="#363636" stroke="#363636" stroke-width="0.25" textLength="696.5" lengthAdjust="spacingAndGlyphs">Deaths in non-state conflicts based on where they occurred, 2024</text>
<text x="16" y="64.6" font-size="13.8" fill="#5b5b5b" textLength="705.2" lengthAdjust="spacingAndGlyphs">Included are deaths of combatants and civilians due to fighting in non-state conflicts that were ongoing that</text>
<text x="16" y="81.8" font-size="13.8" fill="#5b5b5b" textLength="30.5" lengthAdjust="spacingAndGlyphs">year.</text>
</g>
<g id="logo">
<rect x="769" y="16" width="65" height="35.7" fill="#002147"/>
<rect x="769" y="48.8" width="65" height="2.9" fill="#ce261e"/>
<text x="773.4" y="30.5" font-size="11.2" font-weight="bold" fill="#fff" textLength="56" lengthAdjust="spacingAndGlyphs">Our World</text>
<text x="783" y="41.8" font-size="11.2" font-weight="bold" fill="#fff" textLength="37" lengthAdjust="spacingAndGlyphs">in Data</text>
</g>
<g id="legend" font-size="13" fill="#5b5b5b">
<defs><pattern id="hatch" width="4" height="4" patternUnits="userSpaceOnUse" patternTransform="rotate(45)"><rect width="4" height="4" fill="#f6f6f6"/><line x1="0" y1="0" x2="0" y2="4" stroke="#d4d4d4" stroke-width="1.5"/></pattern></defs>
<text x="215" y="530" textLength="47.5" lengthAdjust="spacingAndGlyphs">No data</text>
<rect x="215.5" y="537.3" width="47.3" height="11.2" fill="url(#hatch)" stroke="#c2c2c2" stroke-width="0.8"/>
<rect x="283.3" y="537.3" width="58.2" height="11.2" fill="#e8f3ea"/>
<rect x="341.5" y="537.3" width="58.5" height="11.2" fill="#fdd49e"/>
<rect x="400" y="537.3" width="58.5" height="11.2" fill="#fdbb84"/>
<rect x="458.5" y="537.3" width="58.5" height="11.2" fill="#fc8d59"/>
<rect x="517" y="537.3" width="58.5" height="11.2" fill="#e34a33"/>
<path d="M575.5,537.3H628L634,542.9L628,548.5H575.5Z" fill="#b30000"/>
<path d="M283.3,537.3H628L634,542.9L628,548.5H283.3Z" fill="none" stroke="#b4b4b4" stroke-width="0.8"/>
<path d="M239,534.6V537.3M312,534.6V537.3" stroke="#9a9a9a" stroke-width="0.8" fill="none"/>
<path d="M341.5,534.6V548.5M400,534.6V548.5M458.5,534.6V548.5M517,534.6V548.5M575.5,534.6V548.5" stroke="#7d7d7d" stroke-width="0.7" fill="none" opacity="0.8"/>
<text x="312" y="530" text-anchor="middle">0</text>
<text x="341.5" y="530" text-anchor="middle">&lt;1</text>
<text x="400" y="530" text-anchor="middle">10</text>
<text x="458.5" y="530" text-anchor="middle">100</text>
<text x="517" y="530" text-anchor="middle">1,000</text>
<text x="575.5" y="530" text-anchor="middle">10,000</text>
</g>
<g id="footer" font-size="13" fill="#616161">
<text x="16" y="581.4" font-weight="bold" textLength="71.3" lengthAdjust="spacingAndGlyphs">Data source:</text>
<text x="92.6" y="581.4" textLength="347.8" lengthAdjust="spacingAndGlyphs">Uppsala Conflict Data Program (2025); geoBoundaries (2023)</text>
<text x="577.2" y="581.4" textLength="253.4" lengthAdjust="spacingAndGlyphs">OurWorldinData.org/war-and-peace | CC BY</text>
</g>
</svg>
</body></html>
